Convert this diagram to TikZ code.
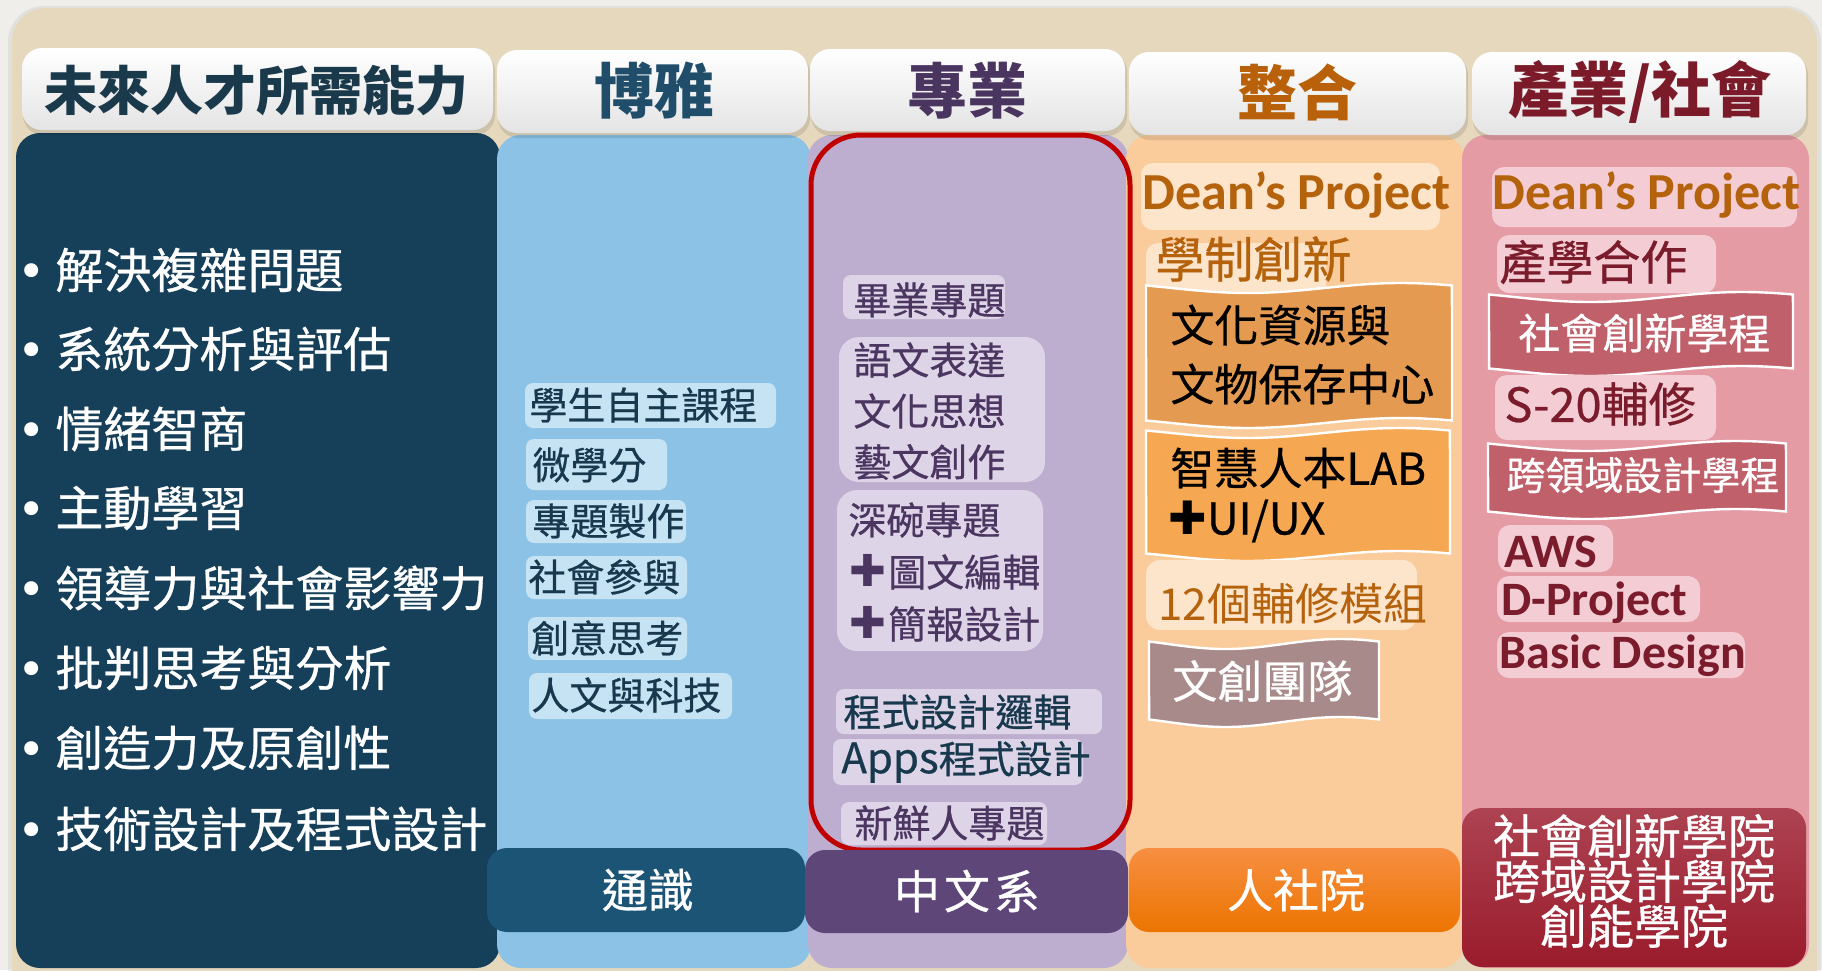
\documentclass[tikz,border=0pt]{standalone}
\usepackage{fontspec}
\setmainfont{Noto Sans CJK TC}
\newfontfamily\medf{Noto Sans CJK TC}[FakeBold=0.6]
\newfontfamily\latf{Carlito}
\newfontfamily\djv{DejaVu Sans}
\newcommand\fsz[1]{\fontsize{#1}{#1}\selectfont}
\definecolor{bgout}{HTML}{EFEEEA}
\definecolor{beige}{HTML}{E6D8BD}
\definecolor{colA}{HTML}{163F5A}
\definecolor{colB}{HTML}{8BC2E6}
\definecolor{colC}{HTML}{BDAECF}
\definecolor{colD}{HTML}{FACB9B}
\definecolor{colE}{HTML}{E59BA4}
\definecolor{chipB}{HTML}{C6E3F4}
\definecolor{chipC}{HTML}{DED4E7}
\definecolor{chipD}{HTML}{FDE5CC}
\definecolor{chipE}{HTML}{F3CDD3}
\definecolor{tnavy}{HTML}{17384D}
\definecolor{tpurp}{HTML}{4B3561}
\definecolor{torange}{HTML}{B5620D}
\definecolor{tmaroon}{HTML}{7A1C2C}
\definecolor{hA}{HTML}{1A3A4C}
\definecolor{hB}{HTML}{1F4D6A}
\definecolor{hC}{HTML}{4A3560}
\definecolor{hD}{HTML}{B8600A}
\definecolor{hE}{HTML}{7B1B2A}
\definecolor{hdrbot}{HTML}{E4E4E4}
\definecolor{wA}{HTML}{E49A50}
\definecolor{wB}{HTML}{F5A752}
\definecolor{wC}{HTML}{A98A8A}
\definecolor{wD}{HTML}{C0606A}
\definecolor{bA}{HTML}{1C5476}
\definecolor{bB}{HTML}{5E4679}
\definecolor{bCt}{HTML}{F78F42}
\definecolor{bCb}{HTML}{EC7400}
\definecolor{bDt}{HTML}{AD4352}
\definecolor{bDb}{HTML}{9A1B2B}
\definecolor{redline}{HTML}{C00000}
\newcommand\wavebox[5]{%
  \path[fill=#5, draw=white, line width=1.2pt]
    plot[domain=0:1, samples=40, variable=\t, smooth] ({#1+\t*(#3-#1)}, {#2+5*sin(360*\t-30)})
    -- plot[domain=1:0, samples=40, variable=\t, smooth] ({#1+\t*(#3-#1)}, {#4+5*sin(360*\t-30)})
    -- cycle;}
\newcommand\plussym[1]{{\djv\fontsize{#1}{#1}\selectfont ✚}}
\begin{document}
\begin{tikzpicture}[x=0.5pt,y=-0.5pt,
  lbl/.style={inner sep=0pt, anchor=west},
  hdrtxt/.style={inner sep=0pt, font=\fsz{30pt}\bfseries},
  bul/.style={lbl, text=white, font=\medf\fsz{24pt}},
  tB/.style={lbl, text=tnavy, font=\medf\fsz{19pt}},
  tC/.style={lbl, text=tpurp, font=\medf\fsz{19pt}},
  tCn/.style={lbl, text=tnavy, font=\medf\fsz{19pt}},
  tD/.style={lbl, text=black, font=\medf\fsz{22pt}},
  tDw/.style={lbl, text=white, font=\medf\fsz{22.5pt}},
  tE/.style={lbl, text=tmaroon, font=\medf\fsz{23.5pt}},
  tEw/.style={lbl, text=white, font=\medf\fsz{21pt}},
  dean/.style={inner sep=0pt, anchor=base west, text=torange, font=\latf\fsz{26pt}\bfseries},
  latE/.style={inner sep=0pt, anchor=base west, text=tmaroon, font=\latf\fsz{24pt}\bfseries},
  bot/.style={inner sep=0pt, text=white, font=\medf\fsz{23pt}},
  chip/.style={rounded corners=4pt},
  hdrbox/.style={top color=white, bottom color=hdrbot, rounded corners=10pt}
]
\useasboundingbox (0,0) rectangle (1822,970);
\fill[bgout] (0,0) rectangle (1822,970);
\fill[black, opacity=0.06, rounded corners=18pt] (8,6) rectangle (1821,1010);
\fill[beige, rounded corners=17pt] (12,8) rectangle (1817,1010);

% column bodies
\fill[colA, rounded corners=12pt] (16,133) rectangle (500,968);
\fill[colB, rounded corners=12pt] (497,135) rectangle (811,968);
\fill[colC, rounded corners=12pt] (808,135) rectangle (1128,968);
\fill[colD, rounded corners=12pt] (1126,135) rectangle (1464,968);
\fill[colE, rounded corners=12pt] (1462,135) rectangle (1809,968);

% headers
\foreach \a/\b/\c/\d in {22/48/493/130, 497/50/808/133, 810/49/1125/131, 1129/52/1466/135, 1472/52/1806/135} {
  \fill[black, opacity=0.10, rounded corners=10pt] ({\a+1},{\b+3}) rectangle ({\c+2},{\d+5});
  \shade[hdrbox] (\a,\b) rectangle (\c,\d);
}
\node[hdrtxt, font=\fsz{26.5pt}\bfseries, text=hA] (hA) at (257,91) {未來人才所需能力};
\node[hdrtxt, text=hB] (hB) at (654,91) {博雅};
\node[hdrtxt, text=hC] (hC) at (967,91) {專業};
\node[hdrtxt, text=hD] (hD) at (1297,92) {整合};
\node[hdrtxt, text=hE] (hE) at (1640,92) {產業/社會};

% column 1 bullets
\foreach \y/\s [count=\i] in {270/解決複雜問題, 349/系統分析與評估, 429/情緒智商, 508/主動學習, 588/領導力與社會影響力, 668/批判思考與分析, 748/創造力及原創性, 829/技術設計及程式設計} {
  \node[bul] (ab\i) at (17,\y) {\makebox[19pt][l]{\djv •}\s};
}

% column 2 chips
\fill[chipB, chip] (525,383) rectangle (776,428);
\fill[chipB, chip] (526,439) rectangle (667,490);
\fill[chipB, chip] (526,500) rectangle (686,543);
\fill[chipB, chip] (526,556) rectangle (687,599);
\fill[chipB, chip] (528,617) rectangle (687,660);
\fill[chipB, chip] (529,673) rectangle (732,719);
\node[tB] (b1) at (529,405) {學生自主課程};
\node[tB] (b2) at (532,465) {微學分};
\node[tB] (b3) at (532,521) {專題製作};
\node[tB] (b4) at (528,577) {社會參與};
\node[tB] (b5) at (531,638) {創意思考};
\node[tB] (b6) at (531,695) {人文與科技};

% column 3
\fill[chipC, chip] (843,275) rectangle (1005,319);
\fill[chipC, rounded corners=10pt] (839,337) rectangle (1045,482);
\fill[chipC, rounded corners=10pt] (837,490) rectangle (1043,651);
\fill[chipC, chip] (836,689) rectangle (1102,734);
\fill[chipC, chip] (833,739) rectangle (1083,785);
\fill[chipC, chip] (841,802) rectangle (1047,845);
\node[tC] (c1) at (853,300) {畢業專題};
\node[tC] (c2) at (853,360) {語文表達};
\node[tC] (c3) at (853,411) {文化思想};
\node[tC] (c4) at (853,462) {藝文創作};
\node[tC] (c5) at (848,520) {深碗專題};
\node[tC] (c6) at (849,572) {\plussym{22pt}\hspace{1pt}圖文編輯};
\node[tC] (c7) at (849,624) {\plussym{22pt}\hspace{1pt}簡報設計};
\node[tCn] (c8) at (843,712) {程式設計邏輯};
\node[tCn] (c9) at (841,762) {{\fsz{21pt}Apps}程式設計};
\node[tC] (c10) at (854,823) {新鮮人專題};
\draw[redline, line width=2.5pt, rounded corners=25pt] (811,135) rectangle (1130,850);

% column 4
\fill[chipD, rounded corners=6pt] (1141,163) rectangle (1440,230);
\node[dean] (d1) at (1142,209) {Dean’s Project};
\fill[chipD, rounded corners=6pt] (1146,243) rectangle (1326,300);
\node[lbl, text=torange, font=\medf\fsz{24.5pt}] (d2) at (1155,259) {學制創新};
\wavebox{1146}{288}{1452}{423}{wA}
\node[tD] (d3) at (1170,325) {文化資源與};
\node[tD] (d4) at (1170,384) {文物保存中心};
\wavebox{1146}{433}{1450}{556}{wB}
\node[tD] (d5) at (1170,468) {智慧人本LAB};
\node[tD] (d6) at (1168,521) {\plussym{23pt}UI/UX};
\fill[chipD, rounded corners=7pt] (1146,560) rectangle (1417,630);
\node[lbl, text=torange, font=\fsz{22pt}] (d7) at (1158,604) {12個輔修模組};
\wavebox{1149}{644}{1379}{722}{wC}
\node[tDw] (d8) at (1172,681) {文創團隊};

% column 5
\fill[chipE, rounded corners=6pt] (1492,167) rectangle (1797,227);
\node[dean] (e1) at (1492,209) {Dean’s Project};
\fill[chipE, rounded corners=6pt] (1497,235) rectangle (1716,293);
\node[tE] (e2) at (1499,262) {產學合作};
\wavebox{1489}{297}{1793}{371}{wD}
\node[tEw] (e3) at (1518,333) {社會創新學程};
\fill[chipE, rounded corners=6pt] (1495,375) rectangle (1716,440);
\node[tE] (e4) at (1504,404) {S-20輔修};
\wavebox{1488}{446}{1786}{514}{wD}
\node[tEw, font=\medf\fsz{19.5pt}] (e5) at (1506,475) {跨領域設計學程};
\fill[chipE, rounded corners=6pt] (1498,525) rectangle (1613,572);
\node[latE] (e6) at (1504,567) {AWS};
\fill[chipE, rounded corners=6pt] (1497,576) rectangle (1700,622);
\node[latE] (e7) at (1501,615) {D-Project};
\fill[chipE, rounded corners=6pt] (1497,632) rectangle (1745,678);
\node[latE] (e8) at (1499,668) {Basic Design};

% bottom labels
\fill[bA, rounded corners=10pt] (487,848) rectangle (805,932);
\node[bot] (f1) at (648,890) {通識};
\fill[bB, rounded corners=10pt] (805,850) rectangle (1128,933);
\node[bot] (f2) at (967,891) {中\hspace{2pt}文\hspace{2pt}系};
\shade[top color=bCt, bottom color=bCb, rounded corners=10pt] (1129,848) rectangle (1460,932);
\node[bot] (f3) at (1296,890) {人社院};
\shade[top color=bDt, bottom color=bDb, rounded corners=10pt] (1462,808) rectangle (1806,967);
\node[bot, font=\medf\fsz{23.5pt}, align=center] (f4) at (1634,881) {社會創新學院\\[-1pt]跨域設計學院\\[-1pt]創能學院};
\end{tikzpicture}
\end{document}
